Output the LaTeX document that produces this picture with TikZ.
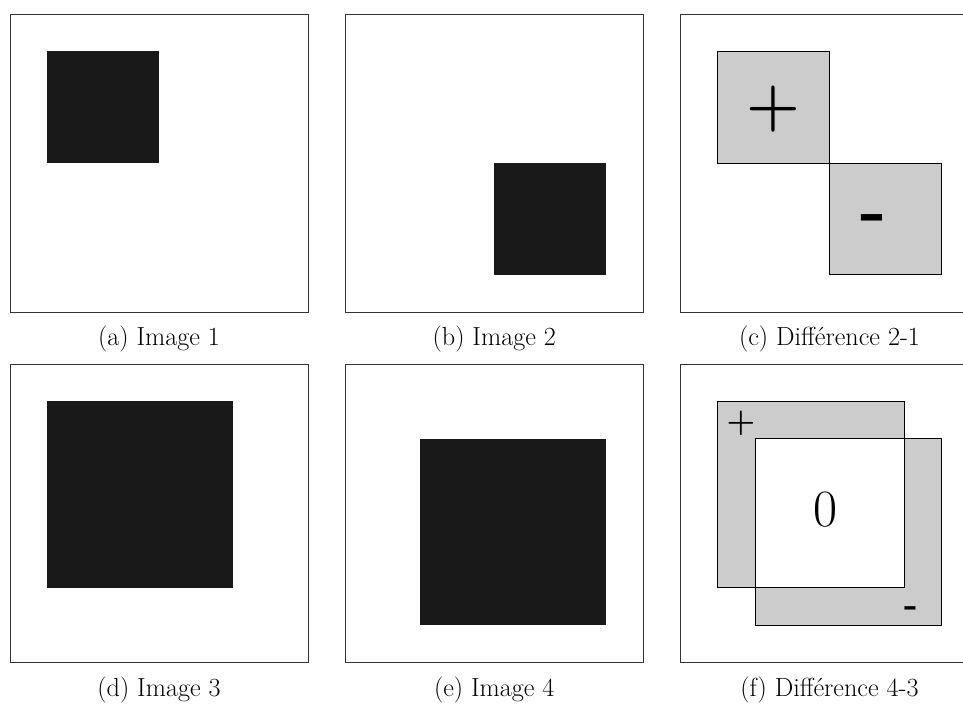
\documentclass[tikz,border=0pt]{standalone}
\usepackage{tikz}
\usetikzlibrary{calc}

\begin{document}
\begin{tikzpicture}[frame/.style={draw=black!80, line width=0.6pt},
  blackbox/.style={fill=black!90},
  diffbox/.style={fill=black!20, draw=black, line width=0.5pt},
  caption/.style={anchor=base, font=\fontsize{20}{24}\selectfont}]
\useasboundingbox (-0.268,0.376) rectangle (25.584,-18.577);

%the frames
\draw [frame] (0,0) rectangle (8,-8);
\draw [frame] (9,0) rectangle (17,-8);
\draw [frame] (18,0) rectangle (26,-8);
\draw [frame] (0,-9.4) rectangle (8,-17.4);
\draw [frame] (9,-9.4) rectangle (17,-17.4);
\draw [frame] (18,-9.4) rectangle (26,-17.4);

%the images
\fill [blackbox] (1,-1) rectangle (4,-4);
\fill [blackbox] (13,-4) rectangle (16,-7);
\fill [blackbox] (1,-10.4) rectangle (6,-15.4);
\fill [blackbox] (11,-11.4) rectangle (16,-16.4);

%difference 2-1
\draw [diffbox] (19,-1) rectangle (22,-4);
\draw [diffbox] (22,-4) rectangle (25,-7);
\node (plusc) at (20.5,-2.55) {\fontsize{47}{47}\selectfont\bfseries +};
\node (minusc) at (23.2,-5.65) {\fontsize{54}{54}\selectfont\bfseries -};

%difference 4-3
\fill [black!20] (19,-10.4) rectangle (24,-15.4);
\fill [black!20] (20,-11.4) rectangle (25,-16.4);
\fill [white] (20,-11.4) rectangle (24,-15.4);
\draw [black, line width=0.5pt] (19,-10.4) rectangle (24,-15.4);
\draw [black, line width=0.5pt] (20,-11.4) rectangle (25,-16.4);
\node (plusf) at (19.62,-11.0) {\fontsize{25}{25}\selectfont\bfseries +};
\node (zerof) at (21.88,-13.3) {\fontsize{40}{40}\selectfont 0};
\node (minusf) at (24.21,-16.05) {\fontsize{28}{28}\selectfont\bfseries -};

%the captions
\node [caption] (capa) at (4,-8.91) {(a) Image 1};
\node [caption] (capb) at (13,-8.91) {(b) Image 2};
\node [caption] (capc) at (22,-8.91) {(c) Différence 2-1};
\node [caption] (capd) at (4,-18.31) {(d) Image 3};
\node [caption] (cape) at (13,-18.31) {(e) Image 4};
\node [caption] (capf) at (22,-18.31) {(f) Différence 4-3};
\end{tikzpicture}
\end{document}
